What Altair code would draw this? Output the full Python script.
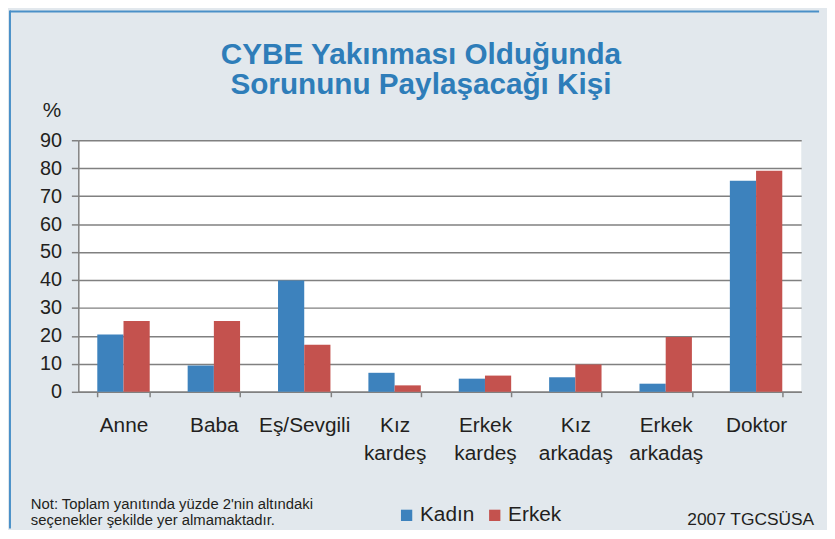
import altair as alt
import pandas as pd

categories = ["Anne", "Baba", "Eş/Sevgili", "Kız kardeş", "Erkek kardeş",
              "Kız arkadaş", "Erkek arkadaş", "Doktor"]
kadin = [20.5, 9.4, 39.8, 6.8, 4.7, 5.2, 2.9, 75.5]
erkek = [25.3, 25.3, 16.8, 2.3, 5.8, 9.8, 19.6, 79.1]
series = ["Kadın", "Erkek"]
colors = ["#3D82BD", "#C4524E"]
title_lines = ["CYBE Yakınması Olduğunda", "Sorununu Paylaşacağı Kişi"]
note_lines = ["Not: Toplam yanıtında yüzde 2'nin altındaki",
              "seçenekler şekilde yer almamaktadır."]
source_text = "2007 TGCSÜSA"

rows = []
for i, c in enumerate(categories):
    rows.append({"cat": c, "series": series[0], "value": kadin[i]})
    rows.append({"cat": c, "series": series[1], "value": erkek[i]})
df = pd.DataFrame(rows)

FONT = "Liberation Sans"
TXT = "#231F20"
GRID = "#808080"
W, H = 730, 254

bars = alt.Chart(df).mark_bar().encode(
    x=alt.X("cat:N", sort=categories,
            scale=alt.Scale(paddingInner=0.42, paddingOuter=0.21),
            axis=alt.Axis(title=None, labelAngle=0, labelFontSize=21,
                          labelColor=TXT, labelFont=FONT,
                          labelExpr="split(datum.label, ' ')",
                          labelLineHeight=28, labelPadding=35,
                          tickBand="extent", tickSize=5, tickColor=GRID,
                          tickWidth=1.5, domainColor=GRID, domainWidth=1.5,
                          grid=False, labelBaseline="alphabetic")),
    xOffset=alt.XOffset("series:N", sort=series),
    y=alt.Y("value:Q", scale=alt.Scale(domain=[0, 90]),
            axis=alt.Axis(values=list(range(0, 91, 10)), title="%",
                          titleAngle=0, titleX=-27, titleY=-24,
                          titleAlign="center", titleBaseline="alphabetic",
                          titleFontSize=21, titleFontWeight="normal",
                          titleFont=FONT, titleColor=TXT,
                          labelFontSize=20, labelFont=FONT, labelColor=TXT,
                          labelPadding=10, tickSize=7, tickColor=GRID,
                          tickWidth=1.5, domainColor=GRID, domainWidth=1.5,
                          gridColor=GRID, gridWidth=1.5, gridOpacity=1)),
    color=alt.Color("series:N", sort=series,
                    scale=alt.Scale(domain=series, range=colors),
                    legend=alt.Legend(title=None, orient="none",
                                      direction="horizontal",
                                      legendX=321, legendY=368,
                                      symbolType="square", symbolSize=130,
                                      symbolStrokeWidth=0, symbolOpacity=1,
                                      labelFontSize=21, labelFont=FONT,
                                      labelColor=TXT, labelOffset=3,
                                      columnPadding=10)),
)

title_df = pd.DataFrame({"t": [title_lines]})
title = alt.Chart(title_df).mark_text(
    align="center", baseline="alphabetic", fontSize=30, font=FONT,
    fontWeight="bold", color="#2E7DB9", lineHeight=30
).encode(x=alt.value(346), y=alt.value(-77), text="t")

note_df = pd.DataFrame({"t": [note_lines]})
note = alt.Chart(note_df).mark_text(
    align="left", baseline="alphabetic", fontSize=15, font=FONT,
    color=TXT, lineHeight=16
).encode(x=alt.value(-48), y=alt.value(372), text="t")

src_df = pd.DataFrame({"t": [source_text]})
source = alt.Chart(src_df).mark_text(
    align="right", baseline="alphabetic", fontSize=17.5, font=FONT,
    color=TXT
).encode(x=alt.value(743), y=alt.value(389), text="t")

border_df = pd.DataFrame({"a": [0]})
left_border = alt.Chart(border_df).mark_rule(color="#4A90C8", strokeWidth=2).encode(
    x=alt.value(-69), y=alt.value(-131), y2=alt.value(392))
top_border = alt.Chart(border_df).mark_rule(color="#4A90C8", strokeWidth=2).encode(
    x=alt.value(-69), x2=alt.value(748), y=alt.value(-130))

chart = alt.layer(bars, title, note, source, left_border, top_border).properties(
    width=W, height=H,
    autosize=alt.AutoSizeParams(type="none"),
    padding={"left": 71, "top": 131, "right": 26, "bottom": 137},
    background="#E2E8ED",
).configure_view(fill="white", stroke=None)

chart.save("out.html", embed_options={"renderer": "svg", "actions": False})
